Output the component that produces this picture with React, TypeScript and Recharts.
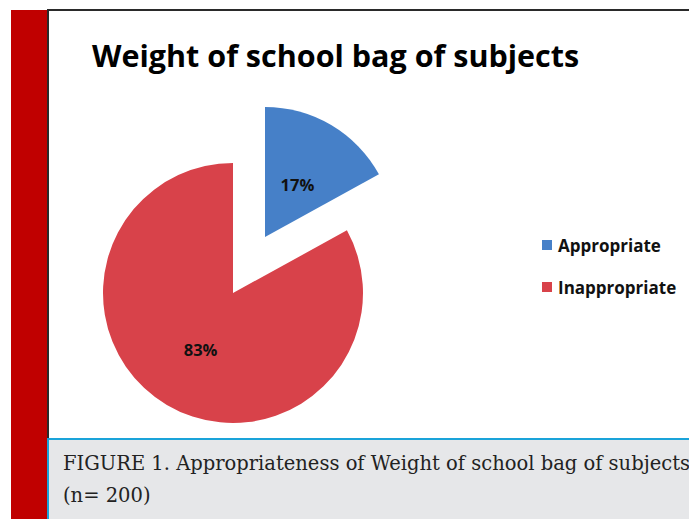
import { Cell, Legend, Pie, PieChart } from "recharts";

// Share of subjects by school-bag weight (n = 200)
const CATEGORIES = ["Appropriate", "Inappropriate"];
const PERCENTS = [17, 83];

const BLUE = "#4680C8";
const RED = "#D8424A";
const COLORS = [BLUE, RED];

const DATA = CATEGORIES.map((name, i) => ({ name, value: PERCENTS[i] }));

const RADIUS = 130;
// main pie centre and the pulled-out offset of the blue slice
const CX = 184;
const CY = 282;
const EXPLODE = { dx: 32, dy: -56 };

const SANS = "'Open Sans', 'DejaVu Sans', sans-serif";

// label at about half the radius along the slice's mid angle
const renderLabel =
  (onlyIndex: number) =>
  (props: any) => {
    if (props.index !== onlyIndex) return null;
    const rad = (Math.PI / 180) * props.midAngle;
    const r = props.outerRadius * 0.49;
    const x = props.cx + r * Math.cos(rad);
    const y = props.cy - r * Math.sin(rad) + 2;
    return (
      <text
        x={x}
        y={y}
        textAnchor="middle"
        dominantBaseline="central"
        fill="#111"
        fontFamily={SANS}
        fontWeight={700}
        fontSize={16.5}
      >
        {`${PERCENTS[props.index]}%`}
      </text>
    );
  };

const LegendBox = () => (
  <div style={{ fontFamily: SANS, fontWeight: 700, fontSize: 17, color: "#111" }}>
    {DATA.map((d, i) => (
      <div
        key={d.name}
        style={{ display: "flex", alignItems: "center", height: 42 }}
      >
        <span
          style={{
            width: 10,
            height: 10,
            background: COLORS[i],
            marginRight: 6,
            display: "inline-block",
          }}
        />
        {d.name}
      </div>
    ))}
  </div>
);

export default function App() {
  return (
    <div
      style={{
        position: "absolute",
        left: 0,
        top: 0,
        width: 689,
        height: 519,
        background: "#fff",
        overflow: "hidden",
      }}
    >
      {/* red side strip */}
      <div
        style={{
          position: "absolute",
          left: 11,
          top: 10,
          width: 36,
          height: 509,
          background: "#C00000",
        }}
      />

      {/* chart frame */}
      <div
        style={{
          position: "absolute",
          left: 47,
          top: 9,
          width: 660,
          height: 427,
          border: "2px solid #2a2a2a",
          background: "#fff",
        }}
      >
        <div
          style={{
            position: "absolute",
            left: 43,
            top: 23,
            fontFamily: SANS,
            fontWeight: 700,
            fontSize: 30.5,
            color: "#000",
            whiteSpace: "nowrap",
          }}
        >
          Weight of school bag of subjects
        </div>

        <div style={{ position: "absolute", left: 0, top: 0 }}>
          <PieChart
            width={640}
            height={427}
            margin={{ top: 0, right: 0, bottom: 0, left: 0 }}
          >
            <Pie
              data={DATA}
              dataKey="value"
              cx={CX}
              cy={CY}
              outerRadius={RADIUS}
              startAngle={90}
              endAngle={-270}
              stroke="none"
              label={renderLabel(1)}
              labelLine={false}
              isAnimationActive={false}
              legendType="square"
            >
              {DATA.map((d, i) => (
                <Cell key={d.name} fill={i === 1 ? COLORS[i] : "transparent"} />
              ))}
            </Pie>
            <Pie
              data={DATA}
              dataKey="value"
              cx={CX + EXPLODE.dx}
              cy={CY + EXPLODE.dy}
              outerRadius={RADIUS}
              startAngle={90}
              endAngle={-270}
              stroke="none"
              label={renderLabel(0)}
              labelLine={false}
              isAnimationActive={false}
              legendType="none"
            >
              {DATA.map((d, i) => (
                <Cell key={d.name} fill={i === 0 ? COLORS[i] : "transparent"} />
              ))}
            </Pie>
            <Legend
              content={<LegendBox />}
              layout="vertical"
              wrapperStyle={{ position: "absolute", left: 493, top: 213, width: 150 }}
            />
          </PieChart>
        </div>
      </div>

      {/* caption */}
      <div
        style={{
          position: "absolute",
          left: 47,
          top: 438,
          width: 660,
          height: 90,
          background: "#E6E7E9",
          borderTop: "2px solid #1AA3D9",
          borderLeft: "2px solid #1AA3D9",
          fontFamily: "'DejaVu Serif', serif",
          fontSize: 19.5,
          lineHeight: "32px",
          color: "#222",
          paddingLeft: 14,
          paddingTop: 8,
          boxSizing: "border-box",
          whiteSpace: "nowrap",
        }}
      >
        FIGURE 1. Appropriateness of Weight of school bag of subjects
        <br />
        (n= 200)
      </div>
    </div>
  );
}
